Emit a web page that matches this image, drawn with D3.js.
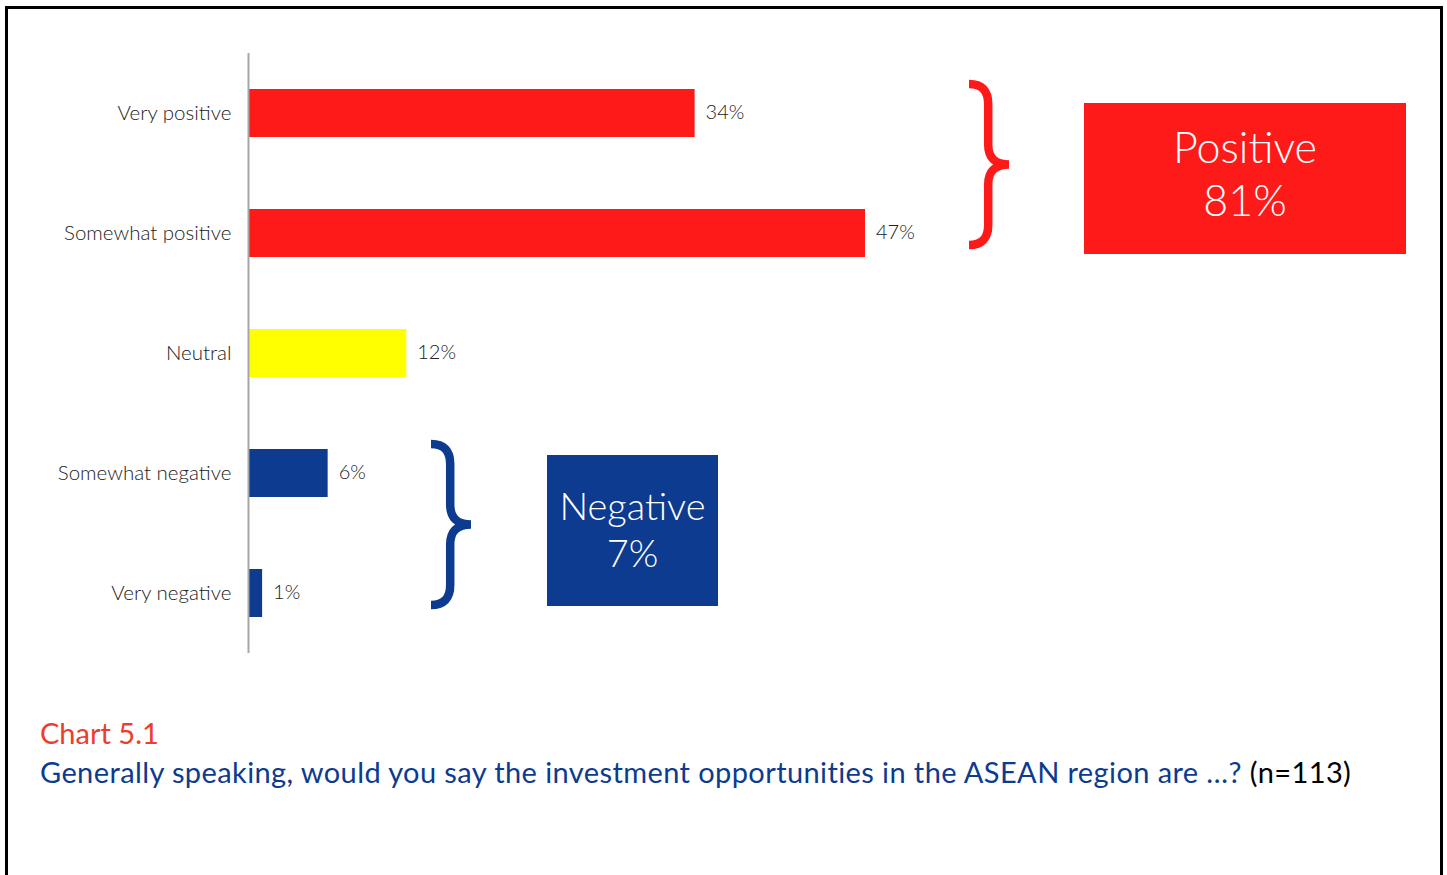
<!DOCTYPE html>
<html>
<head>
<meta charset="utf-8">
<script src="https://cdn.jsdelivr.net/npm/d3@7"></script>
<style>
  html, body { margin: 0; padding: 0; background: #fff; }
  svg { display: block; }
</style>
</head>
<body>
<svg id="chart" width="1447" height="875"></svg>
<script>
// Survey answers and their shares (%)
const categories = ["Very positive", "Somewhat positive", "Neutral", "Somewhat negative", "Very negative"];
const shares = [34, 47, 12, 6, 1];
const barColors = ["#ff1a1a", "#ff1a1a", "#ffff00", "#0c3b8f", "#0c3b8f"];

// Grouped totals shown next to the braces
const groupNames = ["Positive", "Negative"];
const groupTotals = [81, 7];
const groupMembers = [[0, 1], [3, 4]];
const groupColors = ["#ff1a1a", "#0c3b8f"];

const captionLabel = "Chart 5.1";
const captionQuestion = "Generally speaking, would you say the investment opportunities in the ASEAN region are …?";
const captionN = " (n=113)";

const svg = d3.select("#chart");
const font = "Lato, 'Open Sans', sans-serif";

// Frame
svg.append("rect")
  .attr("x", 6.5).attr("y", 7.5)
  .attr("width", 1435).attr("height", 900)
  .attr("fill", "none").attr("stroke", "#000").attr("stroke-width", 3);

const x0 = 249;
const x = d3.scaleLinear().domain([0, 47]).range([x0, 865]);
const y = d3.scaleBand().domain(categories).range([53, 653]).paddingInner(0.6).paddingOuter(0.3);

// Bars
svg.append("g").selectAll("rect")
  .data(categories)
  .join("rect")
  .attr("x", x(0))
  .attr("y", d => y(d))
  .attr("width", (d, i) => x(shares[i]) - x(0))
  .attr("height", y.bandwidth())
  .attr("fill", (d, i) => barColors[i]);

// Axis line (no ticks)
const yAxis = d3.axisLeft(y).tickSize(0).tickPadding(17);
const ax = svg.append("g").attr("transform", `translate(${x0 - 0.5},0)`).call(yAxis);
ax.select(".domain").attr("stroke", "#a6a6a6").attr("stroke-width", 2)
  .attr("d", "M0,53V653");
ax.selectAll("text")
  .attr("font-family", font).attr("font-weight", 300)
  .attr("font-size", 20.5).attr("fill", "#222");

// Value labels
svg.append("g").selectAll("text")
  .data(categories)
  .join("text")
  .attr("x", (d, i) => x(shares[i]) + 11)
  .attr("y", d => y(d) + y.bandwidth() / 2)
  .attr("dy", "0.3em")
  .attr("font-family", font).attr("font-weight", 300)
  .attr("font-size", 20).attr("fill", "#222")
  .text((d, i) => shares[i] + "%");

// Curly brace pointing right
function bracePath(left, top, bottom, w) {
  const stem = left + w * 0.48;
  const tip = left + w;
  const mid = (top + bottom) / 2;
  const r = 20;
  return `M${left},${top} Q${stem},${top} ${stem},${top + r}` +
    ` L${stem},${mid - r} Q${stem},${mid} ${tip},${mid}` +
    ` Q${stem},${mid} ${stem},${mid + r}` +
    ` L${stem},${bottom - r} Q${stem},${bottom} ${left},${bottom}`;
}

const braceLeft = [969, 431];
const boxGeom = [
  { x: 1084, y: 103, w: 322, h: 151, size: 43, line1: 45, line2: 98 },
  { x: 547, y: 455, w: 171, h: 151, size: 38, line1: 52, line2: 99 }
];

groupNames.forEach((name, g) => {
  const first = categories[groupMembers[g][0]];
  const last = categories[groupMembers[g][1]];
  const top = y(first) - 5;
  const bottom = y(last) + y.bandwidth() - 12;
  svg.append("path")
    .attr("d", bracePath(braceLeft[g], top, bottom, 40))
    .attr("fill", "none")
    .attr("stroke", groupColors[g])
    .attr("stroke-width", 8.5);

  const b = boxGeom[g];
  svg.append("rect")
    .attr("x", b.x).attr("y", b.y).attr("width", b.w).attr("height", b.h)
    .attr("fill", groupColors[g]);
  const t = svg.append("text")
    .attr("text-anchor", "middle")
    .attr("font-family", font).attr("font-weight", 300)
    .attr("font-size", b.size).attr("fill", "#fff");
  t.append("tspan").attr("x", b.x + b.w / 2).attr("y", b.y + b.line1).attr("dy", "0.35em").text(name);
  t.append("tspan").attr("x", b.x + b.w / 2).attr("y", b.y + b.line2).attr("dy", "0.35em").text(groupTotals[g] + "%");
});

// Caption
svg.append("text")
  .attr("x", 40).attr("y", 744)
  .attr("font-family", font).attr("font-size", 29)
  .attr("fill", "#ee3d2a")
  .text(captionLabel);

const q = svg.append("text")
  .attr("x", 40).attr("y", 783)
  .attr("font-family", font).attr("font-size", 29)
  .attr("letter-spacing", 0.4)
  .attr("fill", "#0c3b8f");
q.append("tspan").text(captionQuestion);
q.append("tspan").attr("fill", "#000").text(captionN);
</script>
</body>
</html>
